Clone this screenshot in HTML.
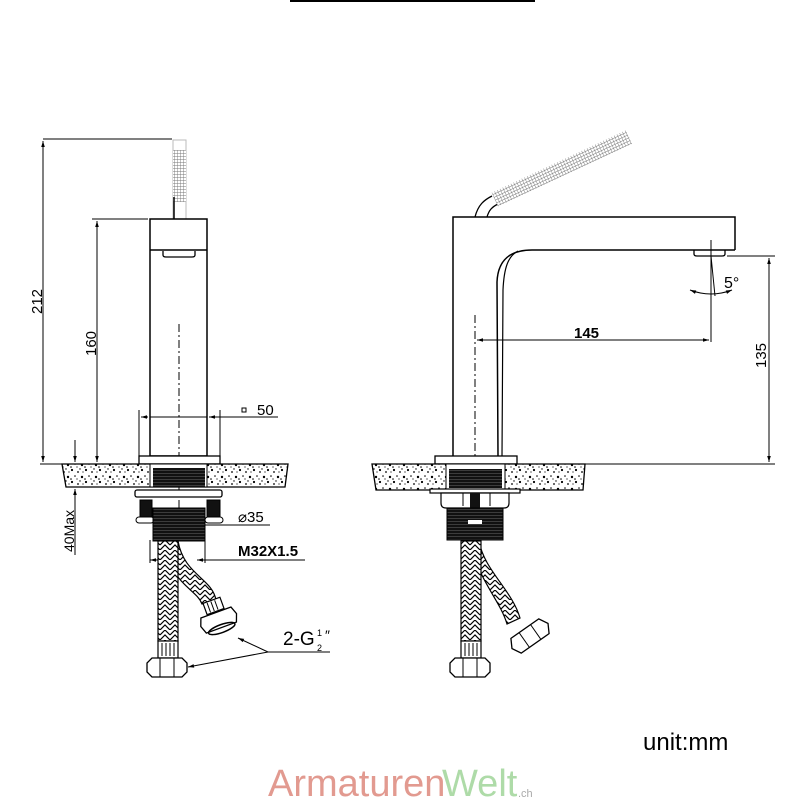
<!DOCTYPE html>
<html><head><meta charset="utf-8"><style>
html,body{margin:0;padding:0;background:#fff;}
svg{display:block;}
text{font-family:"Liberation Sans",sans-serif;fill:#000;}
</style></head><body>
<svg width="800" height="800" viewBox="0 0 800 800" xmlns="http://www.w3.org/2000/svg">
<defs>
<pattern id="spk" width="14" height="12" patternUnits="userSpaceOnUse">
<rect width="14" height="12" fill="#fff"/>
<circle cx="2" cy="2" r="1.1" fill="#000"/><circle cx="8" cy="4" r="0.9" fill="#000"/>
<circle cx="12" cy="9" r="1.2" fill="#000"/><circle cx="5" cy="8" r="0.8" fill="#000"/>
<circle cx="10" cy="1" r="0.7" fill="#000"/><circle cx="1" cy="11" r="0.8" fill="#000"/>
<circle cx="7" cy="11" r="0.6" fill="#000"/><circle cx="13" cy="4" r="0.6" fill="#000"/>
</pattern>
<pattern id="hb" width="10" height="10" patternUnits="userSpaceOnUse">
<rect width="10" height="10" fill="#fff"/>
<path d="M0 5 L5 0 L10 5 M0 10 L5 5 L10 10" stroke="#000" stroke-width="1.2" fill="none"/>
</pattern>
<pattern id="thr" width="4" height="3" patternUnits="userSpaceOnUse">
<rect width="4" height="3" fill="#111"/><line x1="0" y1="2.5" x2="4" y2="2.5" stroke="#666" stroke-width="0.5"/>
</pattern>
<pattern id="grid" width="3" height="3" patternUnits="userSpaceOnUse">
<rect width="3" height="3" fill="#fff"/><path d="M0 0 H3 M0 0 V3" stroke="#777" stroke-width="0.9"/>
</pattern>
<marker id="ar" viewBox="0 0 10 10" refX="10" refY="5" markerWidth="8" markerHeight="6" orient="auto-start-reverse"><path d="M0 2 L10 5 L0 8 Z" fill="#000"/></marker>
</defs>
<g stroke="#000" fill="none" stroke-width="1.2">
<line x1="290" y1="1" x2="535" y2="1" stroke-width="2"/>

<!-- LEFT VIEW -->
<line x1="43" y1="139" x2="172" y2="139" stroke-width="1"/>
<line x1="43" y1="141" x2="43" y2="462" stroke-width="1" marker-start="url(#ar)" marker-end="url(#ar)"/>
<line x1="92" y1="219" x2="148" y2="219" stroke-width="1"/>
<line x1="97" y1="221" x2="97" y2="462" stroke-width="1" marker-start="url(#ar)" marker-end="url(#ar)"/>
<line x1="40" y1="464" x2="140" y2="464" stroke-width="1"/>
<rect x="173" y="140" width="13" height="79" fill="#fff" stroke="#bbb" stroke-width="1"/>
<rect x="173" y="150" width="13" height="52" fill="url(#grid)" stroke="none"/>
<line x1="174" y1="197" x2="174" y2="219" stroke-width="1.5"/>
<rect x="150" y="219" width="57" height="237" stroke-width="1.5"/>
<line x1="150" y1="250" x2="207" y2="250" stroke-width="1.5"/>
<path d="M163 251 v4 q0 2 3 2 h26 q3 0 3 -2 v-4" stroke-width="1.3"/>
<line x1="179" y1="324" x2="179" y2="540" stroke-dasharray="8 3 2 3" stroke-width="1"/>
<line x1="139" y1="410" x2="139" y2="456" stroke-width="1"/>
<line x1="220" y1="410" x2="220" y2="456" stroke-width="1"/>
<line x1="141" y1="417" x2="148" y2="417" marker-start="url(#ar)" stroke-width="1"/>
<line x1="150" y1="417" x2="207" y2="417" stroke-width="1"/>
<line x1="209" y1="417" x2="278" y2="417" marker-start="url(#ar)" stroke-width="1"/>
<rect x="242" y="408" width="4" height="4" stroke-width="1"/>
<rect x="139" y="456" width="81" height="8" fill="#fff" stroke-width="1.3"/>
<path d="M62 464 L288 464 L285 487 L66 487 Z" fill="url(#spk)" stroke-width="1.3"/>
<rect x="150" y="464" width="57" height="23" fill="#fff" stroke-width="1"/>
<rect x="153" y="468" width="52" height="19" fill="url(#thr)" stroke="none"/>
<line x1="75" y1="440" x2="75" y2="462" stroke-width="1" marker-end="url(#ar)"/>
<line x1="75" y1="489" x2="75" y2="555" stroke-width="1" marker-start="url(#ar)"/>
<rect x="135" y="490" width="87" height="7" rx="2" fill="#fff" stroke-width="1.3"/>
<rect x="140" y="500" width="12" height="20" fill="#111" stroke-width="1"/>
<rect x="207" y="500" width="13" height="20" fill="#111" stroke-width="1"/>
<rect x="136" y="517" width="18" height="6" rx="3" fill="#fff" stroke-width="1"/>
<rect x="205" y="517" width="18" height="6" rx="3" fill="#fff" stroke-width="1"/>
<rect x="153" y="508" width="52" height="33" fill="url(#thr)" stroke-width="1"/>
<line x1="205" y1="525" x2="270" y2="525" stroke-width="1"/>
<line x1="150" y1="540" x2="150" y2="563" stroke-width="1"/>
<line x1="205" y1="540" x2="205" y2="563" stroke-width="1"/>
<line x1="150" y1="560" x2="158" y2="560" stroke-width="1" marker-start="url(#ar)"/>
<line x1="197" y1="560" x2="305" y2="560" stroke-width="1" marker-start="url(#ar)"/>
<path d="M178 541 C184 575 212 578 216 600 L202 604 C196 588 170 585 164 541 Z" fill="url(#hb)" stroke-width="1.2"/>
<rect x="158" y="541" width="20" height="100" fill="url(#hb)" stroke-width="1.2"/>
<rect x="158" y="641" width="20" height="17" fill="#fff" stroke-width="1.2"/>
<path d="M162 643 v13 M166 643 v13 M170 643 v13 M174 643 v13" stroke-width="1"/>
<path d="M152 658 h30 l5 5 v9 l-5 5 h-30 l-5 -5 v-9 Z" fill="#fff" stroke-width="1.3"/>
<line x1="160" y1="658" x2="160" y2="677" stroke-width="1"/><line x1="174" y1="658" x2="174" y2="677" stroke-width="1"/>
<g transform="translate(219 621) rotate(-20)">
<rect x="-9" y="-22" width="18" height="12" fill="#fff" stroke-width="1.2"/>
<path d="M-5 -21 v10 M-1 -21 v10 M3 -21 v10" stroke-width="1"/>
<path d="M-16 -9 h32 l3 8 l-3 8 h-32 l-3 -8 Z" fill="#fff" stroke-width="1.3"/>
<ellipse cx="0" cy="8" rx="14" ry="4" stroke-width="1.5"/>
</g>
<line x1="268" y1="652" x2="330" y2="652" stroke-width="1"/>
<line x1="268" y1="652" x2="238" y2="638" stroke-width="1" marker-end="url(#ar)"/>
<line x1="268" y1="652" x2="188" y2="667" stroke-width="1" marker-end="url(#ar)"/>

<!-- RIGHT VIEW -->
<path d="M475 217 C478 205 484 200 492 196" stroke-width="1.3"/>
<path d="M487 217 C489 210 492 207 498 204" stroke-width="1.3"/>
<g transform="translate(495 200) rotate(-25)">
<rect x="0" y="-8" width="148" height="15" fill="url(#grid)" stroke="none"/>
</g>
<path d="M735 250 L735 217 L453 217 L453 456" stroke-width="1.5"/>
<path d="M735 250 L532 250 C512 250 498 258 497 282 L498 456" stroke-width="1.5"/>
<path d="M518 251 C508 256 504 268 503 290 L502 456" stroke-width="1.2"/>
<path d="M694 250 v4 q0 2 3 2 h25 q3 0 3 -2 v-4" stroke-width="1.3"/>
<line x1="711" y1="240" x2="711" y2="342" stroke-width="1"/>
<path d="M690 290 Q711 298 732 290" stroke-width="1" marker-start="url(#ar)" marker-end="url(#ar)"/>
<line x1="711" y1="256" x2="715" y2="296" stroke-width="1"/>
<line x1="475" y1="315" x2="475" y2="490" stroke-dasharray="8 3 2 3" stroke-width="1"/>
<line x1="477" y1="340" x2="709" y2="340" stroke-width="1" marker-start="url(#ar)" marker-end="url(#ar)"/>
<line x1="727" y1="256" x2="775" y2="256" stroke-width="1"/>
<line x1="580" y1="464" x2="775" y2="464" stroke-width="1"/>
<line x1="769" y1="258" x2="769" y2="462" stroke-width="1" marker-start="url(#ar)" marker-end="url(#ar)"/>
<rect x="435" y="456" width="82" height="8" fill="#fff" stroke-width="1.3"/>
<path d="M372 464 L585 464 L583 490 L376 490 Z" fill="url(#spk)" stroke-width="1.3"/>
<rect x="446" y="464" width="59" height="26" fill="#fff" stroke-width="1"/>
<rect x="449" y="469" width="53" height="19" fill="url(#thr)" stroke="none"/>
<rect x="430" y="489" width="90" height="4" fill="#fff" stroke-width="1.2"/>
<path d="M441 493 h68 v10 q0 5 -5 5 h-58 q-5 0 -5 -5 Z" fill="#fff" stroke-width="1.2"/>
<line x1="463" y1="493" x2="463" y2="506" stroke-width="1"/><line x1="490" y1="493" x2="490" y2="506" stroke-width="1"/>
<rect x="470" y="493" width="10" height="15" fill="#111" stroke="none"/>
<rect x="447" y="508" width="56" height="32" fill="url(#thr)" stroke-width="1"/>
<rect x="468" y="520" width="14" height="4" fill="#fff" stroke="none"/>
<path d="M479 541 C484 570 512 590 520 618 L507 624 C500 600 478 580 470 541 Z" fill="url(#hb)" stroke-width="1.2"/>
<rect x="461" y="541" width="20" height="100" fill="url(#hb)" stroke-width="1.2"/>
<rect x="461" y="641" width="20" height="17" fill="#fff" stroke-width="1.2"/>
<path d="M465 643 v13 M469 643 v13 M473 643 v13 M477 643 v13" stroke-width="1"/>
<path d="M455 658 h30 l5 5 v9 l-5 5 h-30 l-5 -5 v-9 Z" fill="#fff" stroke-width="1.3"/>
<line x1="463" y1="658" x2="463" y2="677" stroke-width="1"/><line x1="477" y1="658" x2="477" y2="677" stroke-width="1"/>
<g transform="translate(530 636) rotate(-35)">
<path d="M-17 -9 h34 l5 9 l-5 9 h-34 l-5 -9 Z" fill="#fff" stroke-width="1.3"/>
<line x1="-7" y1="-9" x2="-7" y2="9" stroke-width="1"/><line x1="7" y1="-9" x2="7" y2="9" stroke-width="1"/>
</g>
</g>
<g>
<text x="0" y="0" font-size="15" transform="translate(42 314) rotate(-90)">212</text>
<text x="0" y="0" font-size="15" transform="translate(96 356) rotate(-90)">160</text>
<text x="0" y="0" font-size="14" font-family="Liberation Serif" transform="translate(74 552) rotate(-90)">40Max</text>
<text x="257" y="415" font-size="15">50</text>
<text x="238" y="522" font-size="15" font-family="Liberation Mono">⌀35</text>
<text x="238" y="556" font-size="15" font-family="Liberation Mono" font-weight="bold">M32X1.5</text>
<text x="283" y="645" font-size="19" font-family="Liberation Serif">2-G</text>
<text x="317" y="636" font-size="9" font-family="Liberation Serif">1</text>
<text x="317" y="651" font-size="9" font-family="Liberation Serif">2</text>
<text x="325" y="640" font-size="14" font-family="Liberation Serif">″</text>
<text x="574" y="338" font-size="15" font-weight="bold">145</text>
<text x="0" y="0" font-size="15" transform="translate(766 368) rotate(-90)">135</text>
<text x="724" y="288" font-size="16">5°</text>
<text x="643" y="750" font-size="24">unit:mm</text>
<text x="268" y="796" font-size="38" style="fill:#e29a90">Armaturen</text>
<text x="442" y="796" font-size="38" style="fill:#aedba8">Welt</text>
<text x="518" y="797" font-size="11" style="fill:#aaa">.ch</text>
</g>
</svg>
</body></html>
